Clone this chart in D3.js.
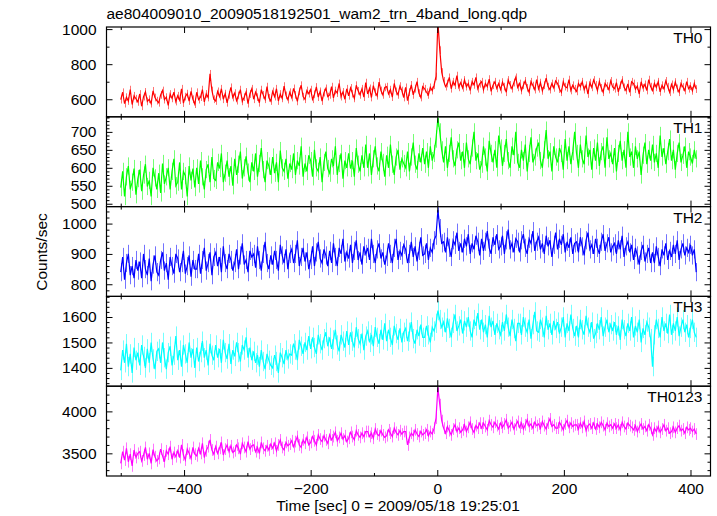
<!DOCTYPE html>
<html><head><meta charset="utf-8">
<script src="https://cdn.jsdelivr.net/npm/d3@7/dist/d3.min.js"></script>
<style>
body{margin:0;background:#fff}
svg{display:block}
text{font-family:"Liberation Sans",Arial,Helvetica,sans-serif;fill:#000}
</style>
</head><body>
<svg id="chart" width="717" height="516"></svg>
<script>
// ---- data (3 s bins starting at t = -500 s) ----
const tStart = -500, tStep = 3;
const th0 = [
598,640,575,612,590,655,570,620,603,585,
630,560,615,642,588,600,575,648,610,592,
580,625,650,598,612,565,630,605,640,587,
620,595,660,578,615,632,590,645,600,572,
640,598,612,655,585,630,610,745,650,600,
590,645,615,660,600,632,580,625,668,610,
635,592,622,655,588,612,642,575,630,660,
600,640,612,580,655,625,600,672,608,590,
645,615,660,590,630,605,675,622,598,640,
610,662,625,588,645,680,615,600,650,632,
655,600,628,670,612,645,590,638,662,615,
625,672,608,650,635,690,615,642,600,660,
620,665,632,605,680,648,625,660,612,695,
630,662,610,678,640,620,698,650,625,668,
672,630,655,612,690,645,625,675,650,610,
668,592,640,682,625,660,700,635,610,672,
660,640,625,668,650,680,730,1040,880,755,
705,672,690,725,660,700,680,735,668,695,
665,710,672,690,650,700,682,725,660,688,
700,655,690,672,715,645,680,700,662,690,
655,698,672,640,710,682,660,695,725,668,
690,650,680,705,665,640,700,678,655,712,
660,695,648,680,720,672,655,690,665,705,
690,658,640,700,672,665,712,650,680,660,
645,690,672,700,655,680,630,695,668,710,
682,650,700,665,640,690,675,655,705,670,
660,695,642,680,710,668,650,688,640,700,
690,658,675,630,700,665,685,650,712,672,
650,690,668,700,642,680,660,705,672,640,
685,655,698,662,640,690,670,650,700,660,
675,648,690,658];
const th1 = [
545,590,520,575,605,540,560,598,525,570,
595,535,580,610,548,565,520,600,572,540,
585,530,612,555,575,600,540,590,625,550,
560,615,540,590,578,520,605,565,598,545,
600,555,620,575,540,595,610,560,630,570,
565,615,598,640,560,585,620,575,605,550,
625,580,610,645,570,600,632,588,560,615,
590,640,575,612,655,595,560,620,605,580,
630,585,615,560,648,600,590,625,570,612,
595,640,580,620,605,660,575,612,590,635,
620,575,650,600,590,630,560,615,645,598,
585,625,605,660,580,612,640,570,620,600,
640,598,620,575,655,610,590,635,600,665,
600,640,580,625,660,605,590,645,615,575,
635,600,665,610,580,630,650,595,625,612,
600,645,590,630,670,610,595,640,615,655,
610,645,600,660,620,640,680,738,700,650,
615,660,600,640,685,625,605,650,670,620,
645,600,670,625,610,655,700,620,640,595,
610,660,630,590,675,640,615,650,600,690,
655,605,640,680,620,600,660,635,700,615,
600,650,620,665,590,640,685,615,630,655,
670,620,600,650,705,625,645,590,660,630,
615,655,640,595,680,620,660,610,645,700,
640,600,665,625,610,690,630,650,595,655,
620,670,605,645,660,600,685,625,640,610,
655,590,640,675,620,650,600,700,630,645,
600,660,625,645,580,635,670,610,650,620,
665,615,640,600,690,630,655,610,645,680,
620,650,595,640,670,615,635,660,600,645,
630,612,650,625];
const th2 = [
840,890,815,870,900,830,860,820,880,845,
875,820,900,850,830,885,810,865,895,840,
830,880,905,845,870,815,890,860,835,900,
885,840,870,910,835,860,895,825,880,850,
850,900,835,880,920,845,870,905,830,890,
905,860,890,840,925,870,850,900,880,845,
870,915,850,895,935,865,880,840,910,890,
900,855,925,880,845,900,940,870,850,895,
865,910,880,845,930,895,870,915,850,900,
915,870,900,945,860,890,920,875,905,850,
880,925,860,905,940,885,870,915,895,860,
910,870,935,890,860,920,900,950,875,905,
885,930,870,910,945,880,905,865,925,900,
920,880,950,900,870,915,935,885,905,865,
890,935,900,870,920,950,880,910,895,930,
915,870,900,940,890,925,875,910,955,895,
900,935,880,920,905,945,960,1045,985,935,
940,905,955,920,890,945,930,970,910,935,
905,950,925,965,900,935,915,960,940,895,
950,910,940,975,920,900,955,930,965,915,
925,960,900,945,980,915,935,905,950,940,
905,945,965,920,900,950,935,975,910,940,
955,915,935,900,960,925,945,890,930,970,
915,950,930,965,905,940,920,955,900,935,
940,905,955,925,895,945,970,915,930,900,
950,920,900,940,965,910,935,955,905,925,
935,900,945,915,960,890,925,940,905,930,
880,920,895,865,910,930,875,900,920,870,
905,870,925,890,860,915,895,935,880,910,
890,930,900,945,880,915,935,895,920,905,
930,895,915,840];
const th3 = [
1390,1470,1420,1495,1405,1455,1380,1480,1430,1460,
1410,1490,1445,1400,1475,1420,1500,1435,1395,1465,
1475,1420,1500,1440,1395,1460,1485,1410,1450,1525,
1430,1470,1405,1490,1455,1420,1500,1440,1475,1400,
1480,1425,1460,1505,1440,1470,1410,1495,1450,1430,
1490,1440,1475,1420,1510,1460,1435,1495,1415,1470,
1445,1500,1460,1425,1490,1470,1520,1440,1480,1430,
1465,1420,1450,1405,1470,1425,1395,1455,1430,1410,
1400,1450,1425,1380,1460,1440,1415,1470,1435,1455,
1450,1495,1470,1430,1510,1485,1455,1500,1470,1525,
1475,1520,1480,1455,1530,1495,1470,1515,1540,1485,
1520,1475,1510,1550,1490,1465,1530,1505,1480,1545,
1490,1540,1505,1480,1560,1515,1495,1535,1470,1525,
1545,1500,1530,1485,1560,1520,1495,1550,1510,1575,
1505,1550,1520,1490,1565,1535,1510,1555,1500,1540,
1555,1505,1540,1580,1515,1495,1550,1525,1570,1520,
1520,1565,1530,1500,1560,1545,1575,1625,1590,1560,
1580,1540,1595,1555,1520,1575,1610,1545,1565,1590,
1535,1585,1560,1600,1545,1520,1590,1565,1615,1550,
1590,1540,1570,1520,1605,1560,1585,1530,1575,1550,
1530,1580,1545,1610,1560,1525,1590,1555,1505,1575,
1575,1530,1600,1560,1540,1590,1515,1570,1620,1545,
1540,1590,1560,1520,1605,1550,1575,1530,1585,1555,
1580,1535,1560,1600,1520,1575,1545,1610,1555,1525,
1565,1520,1590,1550,1530,1605,1560,1540,1580,1515,
1535,1575,1550,1600,1525,1560,1590,1540,1570,1545,
1580,1530,1565,1510,1590,1550,1525,1575,1545,1600,
1520,1565,1540,1590,1500,1555,1530,1580,1560,1515,
1405,1530,1590,1555,1520,1600,1545,1575,1535,1610,
1530,1575,1545,1600,1525,1560,1590,1540,1570,1520,
1555,1590,1540,1520];
const th0123 = [
3380,3520,3420,3560,3400,3490,3350,3540,3450,3500,
3520,3410,3480,3570,3430,3500,3380,3545,3460,3410,
3440,3550,3470,3400,3530,3490,3580,3430,3510,3460,
3530,3450,3600,3480,3420,3550,3500,3440,3570,3490,
3470,3560,3500,3620,3450,3530,3580,3660,3540,3490,
3580,3500,3560,3630,3480,3550,3600,3520,3590,3510,
3530,3600,3560,3490,3620,3570,3520,3640,3550,3590,
3600,3520,3570,3500,3630,3560,3530,3590,3540,3610,
3560,3620,3530,3600,3660,3570,3540,3630,3590,3610,
3650,3580,3640,3700,3600,3570,3660,3620,3690,3600,
3630,3700,3650,3600,3720,3670,3640,3710,3660,3620,
3720,3660,3700,3750,3650,3690,3740,3670,3710,3640,
3680,3750,3700,3660,3770,3720,3690,3740,3700,3760,
3760,3700,3740,3680,3790,3730,3710,3770,3720,3690,
3710,3780,3740,3700,3800,3750,3720,3770,3730,3760,
3760,3600,3690,3740,3710,3780,3730,3700,3760,3720,
3740,3780,3710,3760,3730,3800,3920,4280,4080,3890,
3800,3740,3820,3770,3720,3790,3840,3760,3800,3750,
3780,3840,3760,3810,3870,3790,3750,3830,3800,3860,
3800,3860,3820,3780,3890,3840,3810,3870,3830,3790,
3860,3810,3850,3900,3800,3830,3870,3790,3840,3880,
3810,3860,3790,3840,3900,3820,3850,3800,3870,3830,
3850,3800,3880,3830,3790,3860,3910,3820,3840,3800,
3800,3870,3830,3780,3850,3890,3810,3860,3820,3840,
3840,3790,3860,3810,3880,3770,3830,3850,3800,3860,
3790,3850,3810,3870,3830,3780,3860,3820,3840,3800,
3850,3800,3840,3780,3870,3820,3790,3860,3830,3810,
3780,3830,3760,3810,3850,3790,3820,3770,3840,3800,
3720,3800,3760,3820,3750,3790,3840,3770,3800,3740,
3760,3810,3750,3800,3830,3770,3790,3740,3810,3780,
3800,3760,3790,3730];
const seriesValues = [th0, th1, th2, th3, th0123];
const seriesErrors = [22, 24, 30, 38, 70];
const panelNames = ["TH0", "TH1", "TH2", "TH3", "TH0123"];
const panelColors = ["#ff0000", "#00ff00", "#0000ff", "#00ffff", "#ff00ff"];
const yDomains = [[500, 1012], [492, 742], [760, 1056], [1328, 1681], [3230, 4300]];
const yMajorTicks = [[600, 800, 1000], [500, 550, 600, 650, 700], [800, 900, 1000], [1400, 1500, 1600], [3500, 4000]];
const yMinorStep = [100, 10, 20, 20, 100];
const xDomain = [-522.5, 431.6];
const xMajorTicks = [-400, -200, 0, 200, 400];
const xMinorTicks = [-500, -300, -100, 100, 300];
const titleText = "ae804009010_20090518192501_wam2_trn_4band_long.qdp";
const xAxisTitle = "Time [sec] 0 = 2009/05/18 19:25:01";
const yAxisTitle = "Counts/sec";

// ---- layout ----
const svg = d3.select("#chart");
const L = 106.5, R = 710.5, T = 27, B = 476;
const nP = seriesValues.length;
const pH = (B - T) / nP;
const FS = "15.5px";
const x = d3.scaleLinear().domain(xDomain).range([L, R]);

seriesValues.forEach((vals, p) => {
  const top = T + p * pH, bot = top + pH;
  const y = d3.scaleLinear().domain(yDomains[p]).range([bot, top]);
  const g = svg.append("g");
  const cid = "clip" + p;
  svg.append("clipPath").attr("id", cid).append("rect")
    .attr("x", L).attr("y", top).attr("width", R - L).attr("height", pH);
  const data = vals.map((v, i) => ({t: tStart + i * tStep, v}));
  const col = panelColors[p], e = seriesErrors[p];
  const light = d3.interpolateRgb(col, "#ffffff")(0.45);
  const dg = g.append("g").attr("clip-path", `url(#${cid})`);
  // error bars
  dg.append("path")
    .attr("d", data.map(d => {
      const xx = Math.round(x(d.t)) + 0.5;
      return `M${xx},${y(d.v - e)}V${y(d.v + e)}`;
    }).join(""))
    .attr("fill", "none").attr("stroke", light).attr("stroke-width", 1);
  // line
  dg.append("path").datum(data)
    .attr("d", d3.line().x(d => x(d.t)).y(d => y(d.v)))
    .attr("fill", "none").attr("stroke", col).attr("stroke-width", 1.2);

  // y axes (inward ticks)
  const minorVals = d3.range(Math.ceil(yDomains[p][0] / yMinorStep[p]) * yMinorStep[p], yDomains[p][1], yMinorStep[p])
    .filter(v => !yMajorTicks[p].includes(v));
  const la = g.append("g").attr("transform", `translate(${L},0)`)
    .call(d3.axisLeft(y).tickValues(yMajorTicks[p]).tickSize(-6).tickPadding(10).tickFormat(d3.format("d")));
  la.select(".domain").remove();
  la.selectAll("text").style("font-size", FS).attr("font-family", null);
  g.append("g").attr("transform", `translate(${L},0)`)
    .call(d3.axisLeft(y).tickValues(minorVals).tickSize(-3).tickFormat(""))
    .select(".domain").remove();
  g.append("g").attr("transform", `translate(${R},0)`)
    .call(d3.axisRight(y).tickValues(yMajorTicks[p]).tickSize(-6).tickFormat(""))
    .select(".domain").remove();
  g.append("g").attr("transform", `translate(${R},0)`)
    .call(d3.axisRight(y).tickValues(minorVals).tickSize(-3).tickFormat(""))
    .select(".domain").remove();
  // x ticks top and bottom (inward)
  [[top, d3.axisTop], [bot, d3.axisBottom]].forEach(([yy, ax]) => {
    g.append("g").attr("transform", `translate(0,${yy})`)
      .call(ax(x).tickValues(xMajorTicks).tickSize(-6).tickFormat(""))
      .select(".domain").remove();
    g.append("g").attr("transform", `translate(0,${yy})`)
      .call(ax(x).tickValues(xMinorTicks).tickSize(-3).tickFormat(""))
      .select(".domain").remove();
  });
  // panel frame
  g.append("rect").attr("x", L).attr("y", top).attr("width", R - L).attr("height", pH)
    .attr("fill", "none").attr("stroke", "#000").attr("stroke-width", 1.2);
  // panel name
  g.append("text").attr("x", R - 8).attr("y", top + 16).attr("text-anchor", "end")
    .style("font-size", FS).text(panelNames[p]);
});
svg.selectAll(".tick line").attr("stroke", "#000");

// bottom x labels
const xa = svg.append("g").attr("transform", `translate(0,${B})`)
  .call(d3.axisBottom(x).tickValues(xMajorTicks).tickSize(0).tickPadding(7)
    .tickFormat(d => d < 0 ? "\u2212" + Math.abs(d) : String(d)));
xa.select(".domain").remove();
xa.selectAll("text").style("font-size", FS).attr("font-family", null);

// titles
svg.append("text").attr("x", L).attr("y", 19).style("font-size", FS).text(titleText);
svg.append("text").attr("x", 398).attr("y", 511).attr("text-anchor", "middle")
  .style("font-size", FS).text(xAxisTitle);
svg.append("text").attr("transform", "translate(47,252) rotate(-90)")
  .attr("text-anchor", "middle").style("font-size", FS).text(yAxisTitle);
</script>
</body></html>
